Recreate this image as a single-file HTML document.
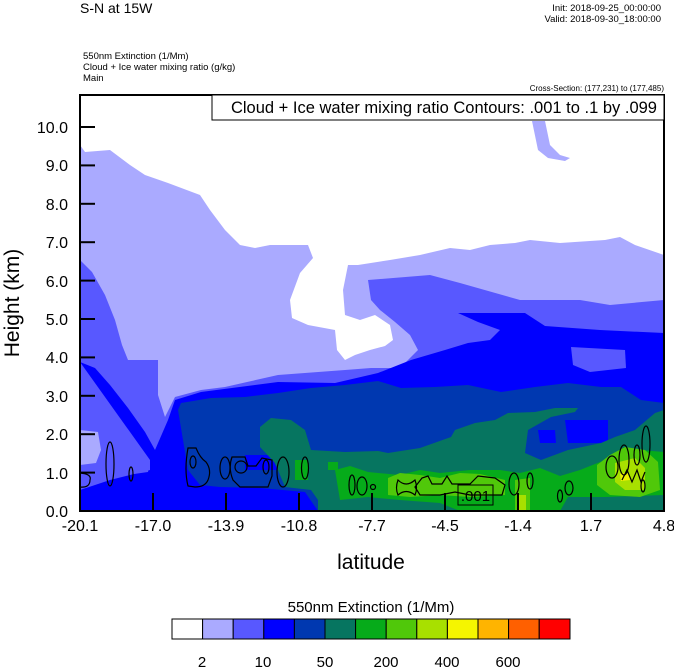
<!DOCTYPE html>
<html><head><meta charset="utf-8"><style>
html,body{margin:0;padding:0;background:#fff;}
svg{display:block;font-family:"Liberation Sans",sans-serif;}
</style></head><body>
<svg width="674" height="668" viewBox="0 0 674 668" xmlns="http://www.w3.org/2000/svg">
<defs><clipPath id="pc"><rect x="80" y="95" width="584" height="416"/></clipPath></defs>
<g clip-path="url(#pc)">
<rect x="80" y="95" width="584" height="416" fill="#aaaaff"/>
<polygon fill="#fff" points="80,95 664,95 664,255 635,245 620,237 605,240 560,243 530,240 515,243 490,245 470,250 450,248 420,255 390,260 358,265 348,265 343,290 345,315 360,320 375,315 390,325 393,340 385,346 370,350 355,355 345,360 337,350 335,330 308,325 292,318 290,300 300,273 313,258 308,245 270,245 255,248 240,245 225,230 210,210 200,195 168,183 145,175 130,165 110,150 85,152 80,145"/>
<polygon fill="#aaaaff" points="532,121 545,121 550,145 560,155 570,158 565,161 548,158 538,150"/>
<polygon fill="#5858ff" points="80,260 92,272 105,295 115,320 122,345 128,360 158,360 158,395 165,417 175,397 201,390 225,387 278,375 345,370 371,368 400,368 418,350 410,335 395,322 380,310 371,300 368,280 430,275 460,283 520,300 580,300 610,305 664,300 664,511 80,511"/>
<polygon fill="#0000ff" points="80,362 95,368 110,385 128,408 145,432 155,450 168,420 175,400 201,392 278,382 335,383 378,373 411,360 445,350 468,343 490,340 500,330 478,322 458,313 525,313 545,326 600,330 664,333 664,511 80,511 80,490 110,480 150,470 150,460"/>
<polygon fill="#5858ff" points="80,400 100,410 120,430 140,450 150,462 148,472 120,476 80,486"/>
<polygon fill="#aaaaff" points="80,430 98,432 101,450 96,463 80,465"/>
<polygon fill="#5858ff" points="571,347 625,350 626,368 590,372 573,365"/>
<polygon fill="#0038b0" points="178,410 181,403 211,398 245,397 278,393 311,388 345,385 378,381 401,388 435,387 468,385 501,392 535,387 568,383 601,387 621,387 641,400 664,403 664,511 318,511 305,492 260,488 220,487 200,485 188,470 183,440"/>
<polygon fill="#0000ff" points="538,430 555,430 556,443 540,443"/>
<polygon fill="#0000ff" points="565,420 608,420 608,443 568,443"/>
<polygon fill="#0000ff" points="245,455 270,455 278,470 245,470"/>
<polygon fill="#067560" points="260,427 271,418 291,420 305,430 311,450 345,452 378,451 388,453 420,448 451,437 455,430 475,423 495,420 508,413 535,412 555,408 578,408 575,412 551,417 528,430 525,453 541,460 568,450 601,443 615,437 635,430 655,413 664,410 664,511 318,511 318,500 311,490 285,487 275,463 260,447"/>
<polygon fill="#06ab1a" points="335,470 350,466 368,472 400,475 420,470 440,473 470,470 500,470 520,473 540,468 560,476 580,470 600,462 620,455 640,450 664,452 664,495 605,497 568,497 560,511 460,511 440,503 400,500 368,497 340,500"/>
<polygon fill="#06ab1a" points="295,460 308,460 308,480 295,480"/>
<polygon fill="#06ab1a" points="328,462 338,462 338,470 328,470"/>
<polygon fill="#067560" points="568,497 605,497 605,511 568,511"/>
<polygon fill="#50c80a" points="388,478 400,473 420,475 440,478 460,473 480,474 505,480 505,495 470,497 440,495 410,497 388,495"/>
<polygon fill="#50c80a" points="597,465 610,455 625,447 645,450 658,462 660,490 640,497 610,495 597,485"/>
<polygon fill="#50c80a" points="515,480 530,478 530,511 515,511"/>
<polygon fill="#a8e000" points="615,463 635,458 645,468 645,490 625,490 615,482"/>
<polygon fill="#f0f000" points="620,474 628,472 630,480 621,481"/>
<polygon fill="#a8e000" points="518,495 526,495 526,511 518,511"/>
<g fill="none" stroke="#000" stroke-width="1.2">
<ellipse cx="110" cy="464" rx="4" ry="22"/>
<ellipse cx="131" cy="474" rx="2" ry="7"/>
<path d="M80,473 Q92,474 90,480 Q90,488 80,487"/>
<path d="M188,448 L196,448 Q200,458 206,462 Q212,470 208,480 Q205,487 195,487 L188,486 Q184,470 188,448Z"/>
<ellipse cx="193" cy="462" rx="3" ry="6"/>
<ellipse cx="225" cy="468" rx="5" ry="11"/>
<path d="M232,457 L245,457 L248,466 L256,466 L262,458 L272,460 L272,476 L268,487 L240,487 L233,480 Q228,468 232,457Z"/>
<ellipse cx="241" cy="467" rx="6" ry="6"/>
<ellipse cx="266" cy="467" rx="3" ry="7"/>
<ellipse cx="283" cy="472" rx="6" ry="15"/>
<ellipse cx="305" cy="468" rx="3.5" ry="11"/>
<ellipse cx="352" cy="485" rx="3" ry="10"/>
<ellipse cx="362" cy="486" rx="5" ry="9"/>
<circle cx="373" cy="487" r="2.5"/>
<path d="M398,480 Q406,488 415,480 Q418,488 415,495 Q406,488 398,495 Q395,488 398,480Z"/>
<path d="M415,487 L422,478 L428,476 L432,484 L442,484 L447,476 L452,484 L470,484 L478,476 L495,478 L505,485 L502,495 L470,495 L455,492 L440,495 L420,495 Z"/>
<ellipse cx="514" cy="484" rx="5" ry="11"/>
<ellipse cx="530" cy="481" rx="3" ry="8"/>
<ellipse cx="560" cy="496" rx="2.5" ry="6"/>
<ellipse cx="569" cy="488" rx="4" ry="7"/>
<ellipse cx="612" cy="467" rx="6" ry="11"/>
<ellipse cx="624" cy="460" rx="5" ry="15"/>
<ellipse cx="646" cy="444" rx="4" ry="18"/>
<ellipse cx="637" cy="455" rx="3" ry="10"/>
<path d="M622,480 L627,470 L632,482 L637,470 L641,482 L645,472"/>
<ellipse cx="643" cy="486" rx="2" ry="6"/>
</g>
<rect x="458" y="485" width="35" height="20" fill="none" stroke="#000" stroke-width="1"/>
<text x="475.5" y="501" font-size="15" text-anchor="middle">.001</text>
</g>
<rect x="80" y="95" width="584" height="416" fill="none" stroke="#000" stroke-width="2"/>
<g stroke="#000" stroke-width="2">
<line x1="80" y1="127" x2="95" y2="127"/><line x1="80" y1="165.4" x2="95" y2="165.4"/>
<line x1="80" y1="203.8" x2="95" y2="203.8"/><line x1="80" y1="242.2" x2="95" y2="242.2"/>
<line x1="80" y1="280.6" x2="95" y2="280.6"/><line x1="80" y1="319" x2="95" y2="319"/>
<line x1="80" y1="357.4" x2="95" y2="357.4"/><line x1="80" y1="395.8" x2="95" y2="395.8"/>
<line x1="80" y1="434.2" x2="95" y2="434.2"/><line x1="80" y1="472.6" x2="95" y2="472.6"/>
<line x1="153" y1="493" x2="153" y2="511"/><line x1="226" y1="493" x2="226" y2="511"/>
<line x1="299" y1="493" x2="299" y2="511"/><line x1="372" y1="493" x2="372" y2="511"/>
<line x1="445" y1="493" x2="445" y2="511"/><line x1="518" y1="493" x2="518" y2="511"/>
<line x1="591" y1="493" x2="591" y2="511"/>
</g>
<g font-size="16" text-anchor="end">
<text x="68" y="133">10.0</text><text x="68" y="171">9.0</text><text x="68" y="210">8.0</text>
<text x="68" y="248">7.0</text><text x="68" y="287">6.0</text><text x="68" y="325">5.0</text>
<text x="68" y="363">4.0</text><text x="68" y="402">3.0</text><text x="68" y="440">2.0</text>
<text x="68" y="479">1.0</text><text x="68" y="517">0.0</text>
</g>
<g font-size="16" text-anchor="middle">
<text x="80" y="531">-20.1</text><text x="153" y="531">-17.0</text><text x="226" y="531">-13.9</text>
<text x="299" y="531">-10.8</text><text x="372" y="531">-7.7</text><text x="445" y="531">-4.5</text>
<text x="518" y="531">-1.4</text><text x="591" y="531">1.7</text><text x="664" y="531">4.8</text>
</g>
<text x="371" y="569" font-size="21" text-anchor="middle">latitude</text>
<text transform="translate(19,303) rotate(-90)" font-size="21" text-anchor="middle">Height (km)</text>
<text x="80" y="13" font-size="14">S-N at 15W</text>
<text x="661" y="11" font-size="9.5" text-anchor="end">Init: 2018-09-25_00:00:00</text>
<text x="661" y="22" font-size="9.5" text-anchor="end">Valid: 2018-09-30_18:00:00</text>
<text x="83" y="59" font-size="9.5">550nm Extinction   (1/Mm)</text>
<text x="83" y="70" font-size="9.5">Cloud + Ice water mixing ratio   (g/kg)</text>
<text x="83" y="81" font-size="9.5">Main</text>
<text x="664" y="91" font-size="8" text-anchor="end">Cross-Section: (177,231) to (177,485)</text>
<rect x="212" y="95" width="452" height="25" fill="#fff" stroke="#000" stroke-width="1"/>
<text x="657" y="113" font-size="16.5" text-anchor="end">Cloud + Ice water mixing ratio Contours: .001 to .1 by .099</text>
<text x="371" y="612" font-size="15" text-anchor="middle">550nm Extinction  (1/Mm)</text>
<g stroke="#000" stroke-width="1">
<rect x="172" y="619" width="30.6" height="20" fill="#ffffff"/>
<rect x="202.6" y="619" width="30.6" height="20" fill="#aaaaff"/>
<rect x="233.2" y="619" width="30.6" height="20" fill="#5858ff"/>
<rect x="263.8" y="619" width="30.6" height="20" fill="#0000ff"/>
<rect x="294.4" y="619" width="30.6" height="20" fill="#0038b0"/>
<rect x="325" y="619" width="30.6" height="20" fill="#067560"/>
<rect x="355.6" y="619" width="30.6" height="20" fill="#06ab1a"/>
<rect x="386.2" y="619" width="30.6" height="20" fill="#50c80a"/>
<rect x="416.8" y="619" width="30.6" height="20" fill="#a8e000"/>
<rect x="447.4" y="619" width="30.6" height="20" fill="#f5f500"/>
<rect x="478" y="619" width="30.6" height="20" fill="#ffb400"/>
<rect x="508.6" y="619" width="30.6" height="20" fill="#ff6000"/>
<rect x="539.2" y="619" width="30.8" height="20" fill="#ff0000"/>
</g>
<g font-size="15" text-anchor="middle">
<text x="202" y="667">2</text><text x="263" y="667">10</text><text x="325" y="667">50</text>
<text x="386" y="667">200</text><text x="447" y="667">400</text><text x="508" y="667">600</text>
</g>
</svg>
</body></html>
